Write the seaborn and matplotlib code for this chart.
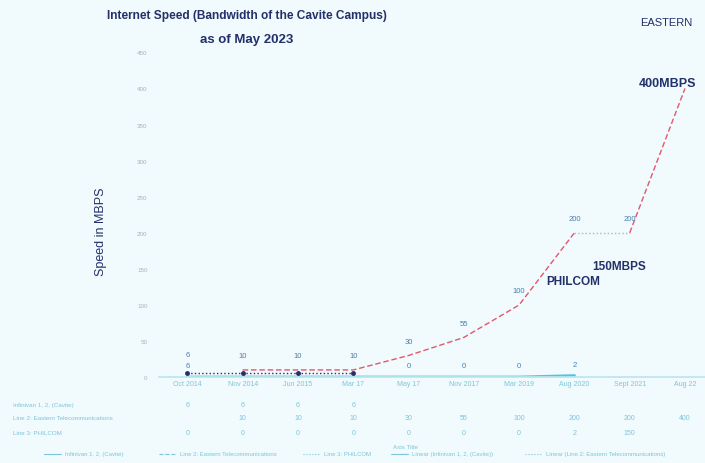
import numpy as np
import pandas as pd
import seaborn as sns
import matplotlib.pyplot as plt
from matplotlib import transforms

categories = ["Oct 2014", "Nov 2014", "Jun 2015", "Mar 17", "May 17",
              "Nov 2017", "Mar 2019", "Aug 2020", "Sept 2021", "Aug 22"]
infinivan = [6, 6, 6, 6, np.nan, np.nan, np.nan, np.nan, np.nan, np.nan]
eastern = [np.nan, 10, 10, 10, 30, 55, 100, 200, 200, 400]
philcom = [0, 0, 0, 0, 0, 0, 0, 2, 150, np.nan]
series_names = ["Infinivan 1, 2, (Cavite)", "Line 2: Eastern Telecommunications", "Line 3: PHILCOM"]
y_ticks = [0, 50, 100, 150, 200, 250, 300, 350, 400, 450]

BG = "#f1fafc"
NAVY = "#23306b"
FAINT = "#7cc6dc"
RED = "#e4566d"

sns.set_theme(style="white")
plt.rcParams["font.family"] = ["Liberation Sans", "DejaVu Sans"]

fig = plt.figure(figsize=(7.05, 4.64), dpi=100, facecolor=BG)
ax = fig.add_axes([0.225, 0.185, 0.778, 0.70], facecolor=BG)

x = np.arange(len(categories))
df = pd.DataFrame({"x": x, "infinivan": infinivan, "eastern": eastern, "philcom": philcom})

# philcom is only drawn up to Aug 2020, the 150 shows up as the annotation
sns.lineplot(data=df.iloc[:8], x="x", y="philcom", ax=ax, color="#55c3e0", linewidth=2.2)
sns.lineplot(data=df, x="x", y="infinivan", ax=ax, color=NAVY, linewidth=1.0,
             linestyle=":", marker="o", markersize=3.5, markeredgewidth=0)
# eastern: red up to Aug 2020, grey dotted flat part, red again to Aug 22
sns.lineplot(data=df.iloc[:8], x="x", y="eastern", ax=ax, color=RED,
             linewidth=1.0, linestyle=(0, (4, 2)))
sns.lineplot(data=df.iloc[7:9], x="x", y="eastern", ax=ax, color="#a9b6bd",
             linewidth=1.0, linestyle=":")
sns.lineplot(data=df.iloc[8:], x="x", y="eastern", ax=ax, color=RED,
             linewidth=1.0, linestyle=(0, (4, 2)))

# data labels
for xi, v in zip(x, eastern):
    if not np.isnan(v) and xi < 9:
        ax.annotate(f"{v:g}", (xi, v), xytext=(0, 9), textcoords="offset points",
                    ha="center", fontsize=5.5, color="#4a7fb0")
ax.annotate(f"{infinivan[0]:g}", (0, infinivan[0]), xytext=(0, 12), textcoords="offset points",
            ha="center", fontsize=5.5, color="#4a7fb0")
ax.annotate(f"{infinivan[0]:g}", (0, infinivan[0]), xytext=(0, 4), textcoords="offset points",
            ha="center", fontsize=5.5, color="#4a7fb0")
for xi, v in zip(x[4:8], philcom[4:8]):
    ax.annotate(f"{v:g}", (xi, v), xytext=(0, 7), textcoords="offset points",
                ha="center", fontsize=5.5, color="#4a7fb0")

ax.set_xlim(-0.52, 9.4)
ax.set_ylim(0, 450)
ax.set_yticks(y_ticks)
ax.set_yticklabels([str(t) for t in y_ticks], fontsize=4.5, color="#9fb5bf")
ax.set_xticks(x)
ax.set_xticklabels(categories, fontsize=5, color=FAINT)
ax.tick_params(axis="x", length=0, pad=2)
ax.tick_params(axis="y", length=0, pad=8)
for side in ["top", "right", "left"]:
    ax.spines[side].set_visible(False)
ax.spines["bottom"].set_color("#bde6f0")
ax.set_xlabel("")
ax.set_ylabel("Speed in MBPS", fontsize=9, color=NAVY)
ax.yaxis.set_label_coords(-0.095, 0.45)

# data table under the axis
trans = transforms.blended_transform_factory(ax.transData, ax.transAxes)
rows = [infinivan, eastern, philcom]
row_y = [-0.085, -0.125, -0.17]
for name, vals, yy in zip(series_names, rows, row_y):
    ax.text(-0.265, yy, name, transform=ax.transAxes, fontsize=4.5, color=FAINT,
            ha="left", va="center")
    for xi, v in zip(x, vals):
        if not np.isnan(v):
            ax.text(xi, yy, f"{v:g}", transform=trans, fontsize=5, color=FAINT,
                    ha="center", va="center")
ax.text(0.45, -0.215, "Axis Title", transform=ax.transAxes, fontsize=4.5,
        color=FAINT, ha="center", va="center")

# legend row
legend_items = [("Infinivan 1, 2, (Cavite)", "-"), ("Line 2: Eastern Telecommunications", "--"),
                ("Line 3: PHILCOM", ":"), ("Linear (Infinivan 1, 2, (Cavite))", "-"),
                ("Linear (Line 2: Eastern Telecommunications)", ":")]
lx = [0.092, 0.255, 0.46, 0.585, 0.775]
for (label, ls), xx in zip(legend_items, lx):
    fig.lines.append(plt.Line2D([xx - 0.03, xx - 0.006], [0.02, 0.02], transform=fig.transFigure,
                                color=FAINT, linewidth=0.8, linestyle=ls))
    fig.text(xx, 0.02, label, fontsize=4.3, color=FAINT, va="center")

fig.text(0.35, 0.965, "Internet Speed (Bandwidth of the Cavite Campus)", ha="center",
         va="center", fontsize=8.6, fontweight="bold", color=NAVY)
fig.text(0.35, 0.913, "as of May 2023", ha="center", va="center", fontsize=9.5,
         fontweight="bold", color=NAVY)

fig.text(0.908, 0.95, "EASTERN", fontsize=8, color=NAVY, va="center")
fig.text(0.906, 0.818, "400MBPS", fontsize=9, fontweight="bold", color=NAVY, va="center")
fig.text(0.775, 0.392, "PHILCOM", fontsize=8.5, fontweight="bold", color=NAVY, va="center")
fig.text(0.84, 0.424, "150MBPS", fontsize=8.5, fontweight="bold", color=NAVY, va="center")

fig.savefig("out.png", dpi=100, facecolor=BG)
